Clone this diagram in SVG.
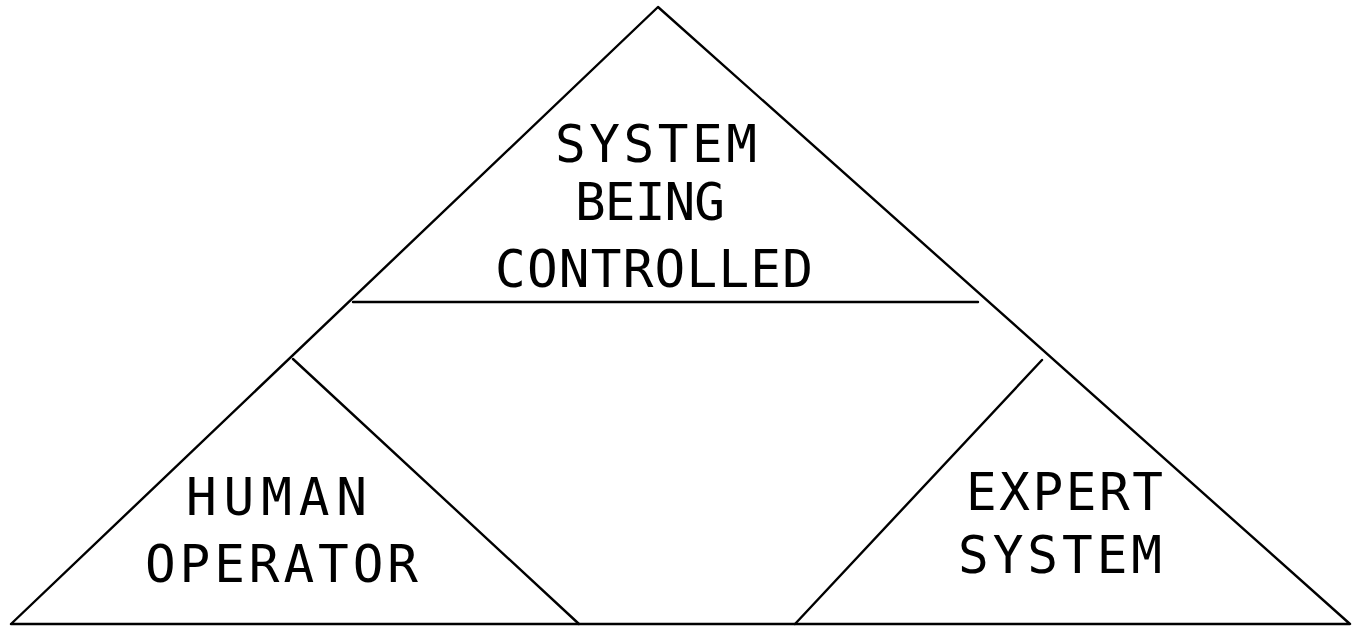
<svg xmlns="http://www.w3.org/2000/svg" width="1359" height="630" viewBox="0 0 1359 630">
<style>
.ln{stroke:#000;stroke-width:2.4;fill:none;stroke-linecap:round;stroke-linejoin:round}
.t{font-family:"DejaVu Sans Mono","Liberation Mono",monospace;font-size:51px;fill:#000;text-anchor:start}
</style>
<rect width="1359" height="630" fill="#fff"/>
<g id="connectors">
<polyline class="ln" points="11,624 658,7 1350,624 11,624"/>
<line class="ln" x1="353" y1="302" x2="978" y2="302"/>
<polyline class="ln" points="293,359 579,624"/>
<polyline class="ln" points="795,624 1042,360"/>
</g>
<g id="system-being-controlled">
<text class="t" x="555" y="162" textLength="202" lengthAdjust="spacing">SYSTEM</text>
<text class="t" x="575" y="220" textLength="150" lengthAdjust="spacing">BEING</text>
<text class="t" x="495" y="287" textLength="318" lengthAdjust="spacing">CONTROLLED</text>
</g>
<g id="human-operator">
<text class="t" x="186" y="515" textLength="181" lengthAdjust="spacing">HUMAN</text>
<text class="t" x="145" y="582" textLength="273" lengthAdjust="spacing">OPERATOR</text>
</g>
<g id="expert-system">
<text class="t" x="966" y="510" textLength="197" lengthAdjust="spacing">EXPERT</text>
<text class="t" x="958" y="573" textLength="204" lengthAdjust="spacing">SYSTEM</text>
</g>
</svg>
